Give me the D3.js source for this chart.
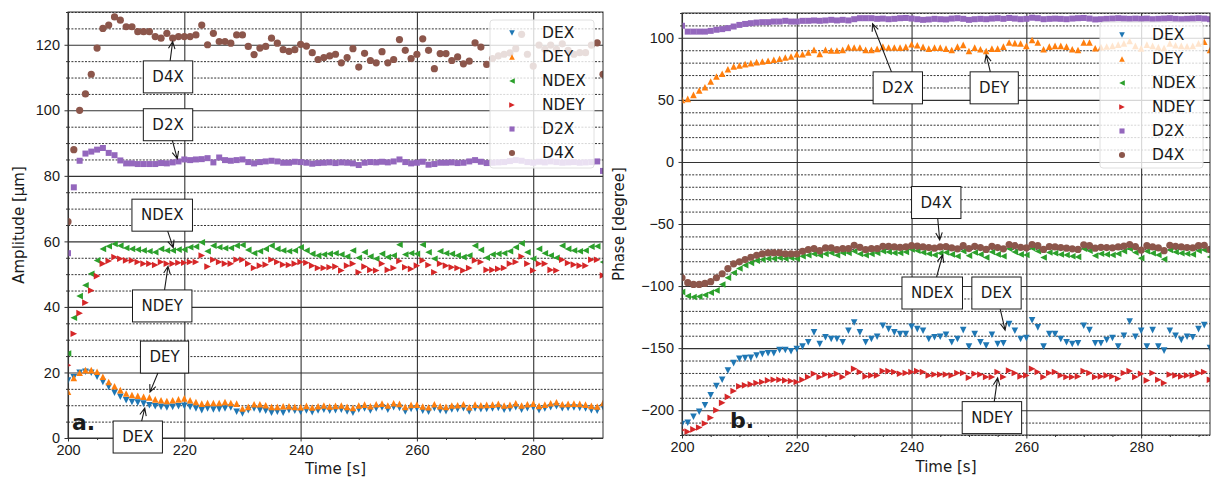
<!DOCTYPE html>
<html>
<head>
<meta charset="utf-8">
<title>Amplitude and phase vs time</title>
<script src="https://d3js.org/d3.v7.min.js"></script>
<style>
  html, body { margin: 0; background: #fff; overflow: hidden; }
  svg { display: block; font-family: "DejaVu Sans", sans-serif; }
  .grid-major line { stroke: #b0b0b0; stroke-width: 1.1; }
  .grid-minor line { stroke: #c4c4c4; stroke-width: 1; stroke-dasharray: 2,1.4; }
  .tick text { font-size: 14.5px; fill: #1a1a1a; }
  .tick line { stroke: #333; }
</style>
</head>
<body>
<svg id="chart" width="1211" height="481"></svg>
<script>
// sample times, one per second
const times = d3.range(200, 293);
const seriesNames = ["DEX", "DEY", "NDEX", "NDEY", "D2X", "D4X"];

// amplitude [µm]
const ampDEX = [17.5, 18.5, 19.9, 20.2, 19.9, 18.7, 17.1, 15.6, 13.8, 12.6,
  11.5, 11.0, 10.8, 10.5, 10.0, 9.7, 9.5, 9.3, 9.5, 9.7,
  9.8, 9.5, 9.0, 8.5, 9.0, 8.7, 8.8, 9.0, 9.3, 8.0,
  7.5, 8.5, 9.0, 8.5, 8.3, 7.7, 8.0, 7.7, 8.5, 8.3,
  8.0, 8.4, 7.9, 8.4, 8.6, 8.3, 8.5, 8.6, 8.1, 7.7,
  8.7, 9.0, 8.4, 9.0, 9.3, 8.6, 9.4, 9.2, 8.1, 8.9,
  9.0, 8.3, 8.0, 9.1, 8.4, 8.2, 8.7, 8.8, 9.1, 8.1,
  9.0, 8.8, 8.9, 9.0, 9.2, 8.6, 8.9, 9.4, 8.6, 9.1,
  9.3, 8.5, 9.0, 9.4, 9.7, 9.1, 9.2, 9.3, 9.2, 9.0,
  8.5, 8.3, 9.4];
const ampDEY = [14.1, 18.3, 19.9, 20.7, 20.7, 20.2, 18.7, 17.1, 15.8, 14.6,
  13.6, 13.1, 12.9, 12.6, 12.4, 11.8, 11.5, 11.3, 11.5, 11.8,
  12.1, 11.5, 11.0, 10.5, 10.7, 10.7, 10.7, 11.0, 10.7, 10.5,
  9.0, 9.5, 10.3, 10.3, 10.0, 9.5, 9.5, 9.7, 9.7, 9.5,
  9.4, 9.8, 9.3, 9.7, 9.9, 9.6, 9.8, 9.9, 9.5, 9.2,
  9.9, 10.2, 9.7, 10.3, 10.5, 9.9, 10.6, 10.4, 9.5, 10.1,
  10.2, 9.6, 9.4, 10.3, 9.7, 9.5, 9.9, 10.0, 10.3, 9.4,
  10.2, 10.0, 10.1, 10.2, 10.4, 9.9, 10.1, 10.6, 9.9, 10.3,
  10.5, 9.8, 10.2, 10.6, 10.9, 10.3, 10.4, 10.5, 10.4, 10.2,
  9.8, 9.6, 10.7];
const ampNDEX = [25.8, 36.7, 43.3, 46.6, 50.1, 54.2, 57.7, 58.5, 59.2, 58.7,
  58.0, 57.7, 57.5, 57.2, 57.0, 56.7, 57.7, 57.2, 57.2, 57.5,
  57.5, 58.2, 58.4, 59.7, 57.0, 58.7, 58.2, 57.9, 58.0, 58.7,
  58.9, 57.4, 56.4, 57.0, 57.7, 58.7, 57.7, 57.2, 57.0, 57.2,
  58.2, 57.2, 56.2, 55.7, 56.0, 56.2, 56.4, 56.0, 55.4, 57.2,
  55.0, 56.7, 55.4, 54.7, 56.2, 55.2, 55.7, 59.0, 56.0, 56.4,
  56.2, 59.0, 56.7, 54.7, 57.0, 56.4, 56.2, 55.7, 55.2, 55.7,
  58.7, 57.4, 55.0, 56.0, 56.2, 56.4, 57.0, 58.2, 59.4, 56.7,
  54.7, 57.7, 56.4, 55.7, 55.0, 58.7, 57.7, 57.2, 57.0, 57.2,
  58.4, 58.5, 53.7];
const ampNDEY = [22.2, 31.8, 38.1, 41.3, 45.0, 49.4, 53.2, 54.0, 55.2, 54.7,
  54.2, 54.2, 53.7, 53.2, 53.2, 52.8, 53.7, 53.2, 53.2, 53.5,
  53.5, 53.7, 53.7, 55.7, 52.3, 54.4, 53.7, 53.2, 53.2, 54.4,
  54.4, 53.2, 51.9, 52.6, 52.9, 54.4, 53.7, 52.9, 52.8, 53.2,
  53.7, 53.5, 52.6, 51.9, 51.9, 52.1, 52.3, 51.1, 52.6, 53.2,
  50.6, 52.3, 51.3, 51.1, 53.2, 51.3, 51.9, 54.0, 52.1, 51.6,
  52.6, 54.2, 52.8, 50.6, 53.2, 52.6, 52.1, 51.9, 51.1, 51.9,
  54.2, 53.7, 51.3, 51.3, 51.6, 51.9, 53.2, 53.7, 55.4, 53.2,
  51.1, 53.2, 53.2, 51.3, 51.1, 54.4, 53.4, 52.9, 52.6, 52.6,
  54.4, 54.4, 49.6];
const ampD2X = [56.4, 76.5, 84.6, 86.8, 87.4, 88.0, 88.5, 87.0, 86.3, 84.7,
  83.8, 83.8, 83.6, 83.6, 83.6, 83.6, 83.9, 83.8, 84.1, 84.4,
  85.0, 84.8, 85.0, 85.1, 85.4, 84.1, 85.6, 84.8, 84.6, 84.8,
  85.0, 84.2, 83.8, 84.2, 84.4, 84.6, 84.4, 84.0, 84.0, 84.3,
  84.2, 84.0, 83.7, 83.9, 84.0, 84.1, 83.9, 84.1, 84.0, 83.8,
  83.3, 84.0, 84.2, 84.1, 84.3, 84.1, 84.4, 85.0, 84.2, 83.8,
  84.0, 84.3, 83.4, 83.6, 84.0, 84.0, 84.1, 83.9, 84.0, 84.4,
  84.8, 84.3, 83.9, 84.0, 84.1, 84.2, 84.5, 84.8, 84.6, 84.2,
  84.0, 84.3, 84.1, 84.4, 84.2, 84.0, 84.1, 84.2, 84.0, 84.1,
  84.2, 84.4, 81.5];
const ampD4X = [66, 88, 100, 105, 111, 119, 125, 126, 128.5, 127.5,
  125.5, 125.5, 124, 124, 124, 122.5, 122, 123.5, 122, 122.5,
  122.5, 122.5, 123, 126, 120, 123.5, 121, 121, 120.5, 123,
  123, 119.5, 117, 119, 119.5, 122, 120.5, 118.5, 118, 118.5,
  120.1, 119.6, 117.6, 115.5, 116.1, 116.6, 117.1, 114.5, 116.1, 118.8,
  113.2, 117.4, 115.2, 114.5, 117.9, 114.5, 115.5, 121.6, 118.3, 115.8,
  117.1, 121.8, 118.3, 112.7, 117.3, 117.3, 115.2, 116.3, 114.2, 115.0,
  120.6, 119.3, 114.0, 115.8, 116.6, 117.1, 117.5, 118.8, 123.2, 117.1,
  113.5, 119.9, 118.6, 119.9, 118.6, 120.3, 118.3, 117.1, 117.6, 117.6,
  119.9, 120.6, 111.0];

// phase [degree]
const phaseDEX = [-211.2, -210.1, -205.3, -201.3, -196, -188, -180.5, -175.5, -168, -162.1,
  -158.7, -158.1, -157.9, -156, -154.7, -154.1, -154.1, -151.5, -151.5, -152.5,
  -150.7, -148.8, -145.3, -137.3, -146.7, -141.3, -142.7, -142.7, -145.3, -136,
  -129.3, -137.3, -145.3, -142.7, -140.8, -132, -134.7, -137.3, -138.7, -138.7,
  -132.8, -134.7, -136, -142.7, -141.3, -140.8, -139.2, -145.3, -142.7, -135.5,
  -148.8, -138.7, -145.3, -148, -139.2, -146.7, -146.1, -130.7, -136, -142.7,
  -141.9, -127.5, -133.3, -148.8, -138.7, -138.7, -142.7, -145.3, -146.7, -146.1,
  -132, -135.5, -146.1, -146.1, -143.5, -141.9, -148.8, -140, -128.5, -140.8,
  -136, -148.8, -135.5, -148.8, -152, -136, -140, -143.5, -140.8, -141.3,
  -134.7, -131.5, -149.9];
const phaseDEY = [50, 50.8, 54, 57.5, 60.2, 64.8, 68.8, 71, 74.7, 76.9,
  77.7, 78.8, 79.6, 80.4, 80.9, 81.5, 82.3, 83.1, 84.1, 84.9,
  86.8, 86.8, 88.2, 90.3, 87.1, 90.3, 89.8, 89.8, 90.3, 92.5,
  92.2, 92.2, 90.3, 90.3, 91.1, 92.9, 92.2, 92.2, 92.1, 92.7,
  94.8, 94.0, 92.7, 91.3, 92.1, 92.1, 91.3, 90.2, 92.9, 94.3,
  89.4, 92.1, 90.8, 89.4, 91.3, 91.3, 92.9, 96.2, 95.7, 95.4,
  93.5, 98.3, 96.2, 90.8, 92.9, 93.5, 93.5, 92.9, 90.8, 90.2,
  96.2, 96.2, 91.6, 92.5, 93, 93.5, 94.5, 95.5, 97.5, 93.5,
  91.5, 94.5, 93.5, 92.5, 91.8, 95.5, 94, 93.5, 93.2, 93.5,
  95.5, 96.8, 90.2];
const phaseNDEX = [-104.8, -108, -108.8, -108.5, -107.2, -105.3, -103.5, -98.7, -93.3, -89.3,
  -85.9, -83.2, -81.3, -79.5, -78.7, -77.9, -77.9, -77.3, -77.9, -77.3,
  -77.9, -76, -75.2, -74.1, -75.2, -74.1, -73.3, -75.2, -73.3, -73.3,
  -72, -74.1, -75.2, -74.1, -73.3, -72, -72.5, -73.3, -73.3, -72.5,
  -70.5, -71.5, -73, -74, -75, -73.5, -73, -74.5, -76, -72,
  -75.5, -73, -74.5, -77, -72.5, -74.5, -76, -70, -72.5, -74.5,
  -75, -69.5, -72, -77, -73, -73.5, -74.5, -75, -76, -76.5,
  -70, -71.5, -75.5, -74, -74.5, -75, -74, -72, -70, -73,
  -77.5, -72, -73.5, -75, -78.5, -71, -72.5, -73.5, -74, -74.5,
  -71.5, -71, -76.5];
const phaseNDEY = [-216, -217.3, -215.5, -213.9, -210.7, -206.1, -200, -194.1, -189.3, -184.5,
  -180.8, -180, -179.2, -178.1, -177.3, -176, -175.5, -175.5, -176, -176.5,
  -177.3, -175.5, -173.3, -170.7, -173.3, -171.2, -172, -170.7, -173.3, -170.1,
  -166.7, -169.3, -172.8, -172, -172, -168.5, -168.5, -169.3, -170.7, -170.1,
  -169.3, -168.5, -169.3, -172, -171.2, -171.2, -171.2, -172, -170.1, -170.1,
  -173.9, -170.7, -171.2, -173.3, -173.3, -169.3, -173.3, -168, -170.1, -172.8,
  -172, -166.7, -169.3, -173.3, -170.1, -169.3, -172, -173.3, -173.3, -172.8,
  -168.5, -170.1, -173.3, -172.8, -172, -172.8, -174.7, -170.1, -168.5, -173.3,
  -170.7, -176, -170.1, -175.5, -178.1, -171.2, -172, -172.8, -172, -172,
  -170.1, -169.3, -175.5];
const phaseD2X = [109.7, 105, 105, 105, 105, 105.6, 106.5, 107, 107.8, 109.1,
  110.4, 111.2, 111.8, 112.3, 112.6, 112.6, 113.1, 113.1, 113.7, 113.1,
  113.1, 113.7, 113.7, 114.0, 113.7, 114.0, 114.5, 114.0, 114.5, 114.0,
  115.0, 115.8, 115.8, 115.8, 115.3, 115.5, 115.0, 115.3, 115.8, 116.0,
  115.5, 115.0, 114.5, 114.8, 115.3, 115.0, 114.8, 115.5, 115.8, 115.3,
  114.5, 115.0, 115.3, 115.0, 115.5, 115.8, 115.3, 116.0, 115.5, 115.0,
  115.3, 116.2, 115.8, 115.0, 115.3, 115.5, 115.3, 115.0, 115.5, 115.8,
  116.0, 115.5, 114.8, 115.0, 115.3, 115.5, 115.8, 115.5, 115.3, 115.5,
  115.3, 115.5, 115.0, 115.3, 115.5, 115.8, 115.3, 115.0, 115.3, 115.5,
  115.8, 115.5, 115.0];
const phaseD4X = [-93.3, -97.3, -98.7, -98.7, -97.9, -96.5, -93.3, -90.1, -85.9, -82.1,
  -80.5, -78.7, -76.8, -75.2, -74.1, -73.3, -73.3, -73.3, -74.1, -74.1,
  -74.1, -72.0, -70.7, -69.9, -71.5, -69.3, -69.3, -70.7, -69.9, -69.9,
  -67.2, -68.8, -70.7, -69.9, -69.9, -68.0, -68.0, -68.5, -68.8, -68.5,
  -67.5, -67.8, -68.5, -69, -69.5, -68.5, -68.2, -69.2, -70, -67.5,
  -69.8, -68, -69, -70.5, -68, -69, -70, -66.5, -67.5, -68.8,
  -69.2, -66.5, -67.5, -70.5, -68.2, -68.5, -69, -69.5, -70, -70.5,
  -66.8, -67.5, -69.5, -68.8, -69, -69.2, -68.5, -67.8, -66.5, -68.2,
  -71, -67.5, -68.5, -69.2, -71.5, -67.2, -68, -68.5, -69, -69.2,
  -67.5, -67.2, -70.5];

// annotations: box centre and arrow tip, both in data units
const ampNotes = [
  { label: "D4X", at: [217.2, 110.2], to: [218.0, 121.0] },
  { label: "D2X", at: [217.2, 95.6], to: [218.8, 85.2] },
  { label: "NDEX", at: [216.2, 68.0], to: [218.1, 58.1] },
  { label: "NDEY", at: [216.2, 40.3], to: [217.2, 52.4] },
  { label: "DEY", at: [216.6, 24.7], to: [214.1, 14.0] },
  { label: "DEX", at: [212.0, 0.3], to: [213.2, 9.1] }
];
const phaseNotes = [
  { label: "D2X", at: [237.6, 59.7], to: [233.2, 111.3] },
  { label: "DEY", at: [254.4, 59.7], to: [253.0, 86.3] },
  { label: "D4X", at: [244.3, -32.7], to: [244.9, -62.9] },
  { label: "NDEX", at: [243.6, -105.6], to: [245.4, -75.0] },
  { label: "DEX", at: [254.8, -105.6], to: [256.3, -135.5] },
  { label: "NDEY", at: [254.0, -206.0], to: [255.0, -174.0] }
];

const xMajor = [200, 220, 240, 260, 280];
const xMinor = d3.range(205, 292, 5).filter(v => v % 20 !== 0);

// ---- styles ----
const colors = ["#1f77b4", "#ff7f0e", "#2ca02c", "#d62728", "#9467bd", "#8c564b"];
const poly = pts => ({
  draw(ctx, r) {
    ctx.moveTo(pts[0][0] * r, pts[0][1] * r);
    for (let i = 1; i < pts.length; i++) ctx.lineTo(pts[i][0] * r, pts[i][1] * r);
    ctx.closePath();
  }
});
const dot = { draw(ctx, r) { ctx.moveTo(r, 0); ctx.arc(0, 0, r, 0, 2 * Math.PI); } };
const shapes = [
  poly([[0, 1], [-1, -1], [1, -1]]),
  poly([[0, -1], [-1, 1], [1, 1]]),
  poly([[-1, 0], [1, -1], [1, 1]]),
  poly([[1, 0], [-1, -1], [-1, 1]]),
  poly([[-1, -1], [1, -1], [1, 1], [-1, 1]]),
  dot
];
const markerR = [3.3, 3.3, 3.3, 3.3, 3.0, 3.6];

const panels = [
  {
    id: "a", left: 68, top: 12, right: 603, bottom: 438,
    yDomain: [0, 130], yMajor: d3.range(0, 121, 20), yMinor: d3.range(0, 131, 5),
    ylabel: "Amplitude [µm]", ylabelX: 18.5, tag: "a.", tagX: 72, tagY: 430,
    series: [ampDEX, ampDEY, ampNDEX, ampNDEY, ampD2X, ampD4X], notes: ampNotes,
    legend: { x: 490, y: 20, w: 104, h: 148 }, xlabelY: 474
  },
  {
    id: "b", left: 682, top: 13, right: 1210, bottom: 435,
    yDomain: [-220, 120], yMajor: d3.range(-200, 101, 50), yMinor: d3.range(-220, 121, 10),
    ylabel: "Phase [degree]", ylabelX: 619, tag: "b.", tagX: 730, tagY: 428,
    series: [phaseDEX, phaseDEY, phaseNDEX, phaseNDEY, phaseD2X, phaseD4X], notes: phaseNotes,
    legend: { x: 1100, y: 22, w: 103, h: 146 }, xlabelY: 472
  }
];

const svg = d3.select("#chart");

function drawPanel(p) {
  const g = svg.append("g");
  const x = d3.scaleLinear().domain([200, 292]).range([p.left, p.right]);
  const y = d3.scaleLinear().domain(p.yDomain).range([p.bottom, p.top]);
  const w = p.right - p.left, h = p.bottom - p.top;

  // grid
  g.append("g").attr("class", "grid-minor")
    .attr("transform", `translate(${p.left},0)`)
    .call(d3.axisLeft(y).tickValues(p.yMinor.filter(v => !p.yMajor.includes(v))).tickSize(-w).tickFormat(""))
    .call(a => a.select(".domain").remove());
  g.append("g").attr("class", "grid-major")
    .attr("transform", `translate(${p.left},0)`)
    .call(d3.axisLeft(y).tickValues(p.yMajor).tickSize(-w).tickFormat(""))
    .call(a => a.select(".domain").remove());
  g.append("g").attr("class", "grid-major")
    .attr("transform", `translate(0,${p.bottom})`)
    .call(d3.axisBottom(x).tickValues(xMajor).tickSize(-h).tickFormat(""))
    .call(a => a.select(".domain").remove());

  // data
  g.append("clipPath").attr("id", "clip-" + p.id)
    .append("rect").attr("x", p.left).attr("y", p.top).attr("width", w).attr("height", h);
  const plot = g.append("g").attr("clip-path", `url(#clip-${p.id})`);
  p.series.forEach((vals, i) => {
    const sym = d3.symbol().type(shapes[i]).size(markerR[i]);
    plot.append("g").selectAll("path")
      .data(times.map((t, k) => [t, vals[k]]))
      .join("path")
      .attr("transform", d => `translate(${x(d[0])},${y(d[1])})`)
      .attr("d", sym)
      .attr("fill", colors[i]);
  });

  // axes
  g.append("g").attr("transform", `translate(0,${p.bottom})`)
    .call(d3.axisBottom(x).tickValues(xMajor).tickSize(3.5).tickPadding(3).tickFormat(d3.format("d")))
    .call(a => a.select(".domain").remove());
  g.append("g").attr("transform", `translate(0,${p.bottom})`)
    .call(d3.axisBottom(x).tickValues(xMinor).tickSize(2).tickFormat(""))
    .call(a => a.select(".domain").remove());
  g.append("g").attr("transform", `translate(${p.left},0)`)
    .call(d3.axisLeft(y).tickValues(p.yMajor).tickSize(3.5).tickPadding(4.5).tickFormat(d3.format("d")))
    .call(a => a.select(".domain").remove())
    .call(a => a.selectAll(".tick text").text(d => d < 0 ? "\u2212" + Math.abs(d) : d));
  g.append("g").attr("transform", `translate(${p.left},0)`)
    .call(d3.axisLeft(y).tickValues(p.yMinor.filter(v => !p.yMajor.includes(v))).tickSize(2).tickFormat(""))
    .call(a => a.select(".domain").remove());
  g.selectAll(".tick line").attr("stroke", "#333");

  g.append("rect").attr("x", p.left).attr("y", p.top).attr("width", w).attr("height", h)
    .attr("fill", "none").attr("stroke", "#333").attr("stroke-width", 1);

  // labels
  g.append("text").attr("x", (p.left + p.right) / 2).attr("y", p.xlabelY)
    .attr("text-anchor", "middle").attr("font-size", 15).attr("fill", "#1a1a1a").text("Time [s]");
  g.append("text").attr("transform", `translate(${p.ylabelX},${(p.top + p.bottom) / 2}) rotate(-90)`)
    .attr("text-anchor", "middle").attr("dominant-baseline", "central")
    .attr("font-size", 15).attr("fill", "#1a1a1a").text(p.ylabel);
  g.append("text").attr("x", p.tagX).attr("y", p.tagY)
    .attr("font-size", 22).attr("font-weight", "bold").attr("fill", "#1a1a1a").text(p.tag);

  // annotations
  p.notes.forEach(n => {
    const cx = x(n.at[0]), cy = y(n.at[1]);
    const tx = x(n.to[0]), ty = y(n.to[1]);
    const ng = g.append("g");
    const txt = ng.append("text").attr("x", cx).attr("y", cy)
      .attr("text-anchor", "middle").attr("dominant-baseline", "central")
      .attr("font-size", 15).attr("fill", "#1a1a1a").text(n.label);
    const bw = txt.node().getComputedTextLength() + 18, bh = 32;
    ng.insert("rect", "text").attr("x", cx - bw / 2).attr("y", cy - bh / 2)
      .attr("width", bw).attr("height", bh).attr("fill", "#fff").attr("stroke", "#1a1a1a").attr("stroke-width", 1);
    const dx = tx - cx, dy = ty - cy;
    const s = Math.min((bw / 2) / Math.abs(dx || 1e-6), (bh / 2) / Math.abs(dy || 1e-6));
    const sx = cx + dx * s, sy = cy + dy * s;
    const ang = Math.atan2(ty - sy, tx - sx), hl = 8, ha = 0.42;
    const path = d3.path();
    path.moveTo(sx, sy); path.lineTo(tx, ty);
    path.moveTo(tx - hl * Math.cos(ang - ha), ty - hl * Math.sin(ang - ha));
    path.lineTo(tx, ty);
    path.lineTo(tx - hl * Math.cos(ang + ha), ty - hl * Math.sin(ang + ha));
    ng.append("path").attr("d", path.toString()).attr("fill", "none")
      .attr("stroke", "#1a1a1a").attr("stroke-width", 1.1);
  });

  // legend
  const L = p.legend;
  const lg = g.append("g");
  lg.append("rect").attr("x", L.x).attr("y", L.y).attr("width", L.w).attr("height", L.h)
    .attr("rx", 3).attr("fill", "#fff").attr("fill-opacity", 0.8).attr("stroke", "#e0e0e0");
  seriesNames.forEach((name, i) => {
    const ry = L.y + 13 + i * 24;
    lg.append("path").attr("transform", `translate(${L.x + 22},${ry})`)
      .attr("d", d3.symbol().type(shapes[i]).size(markerR[i] * 0.85)).attr("fill", colors[i]);
    lg.append("text").attr("x", L.x + 52).attr("y", ry).attr("dominant-baseline", "central")
      .attr("font-size", 15.5).attr("fill", "#1a1a1a").text(name);
  });
}

panels.forEach(drawPanel);
</script>
</body>
</html>
